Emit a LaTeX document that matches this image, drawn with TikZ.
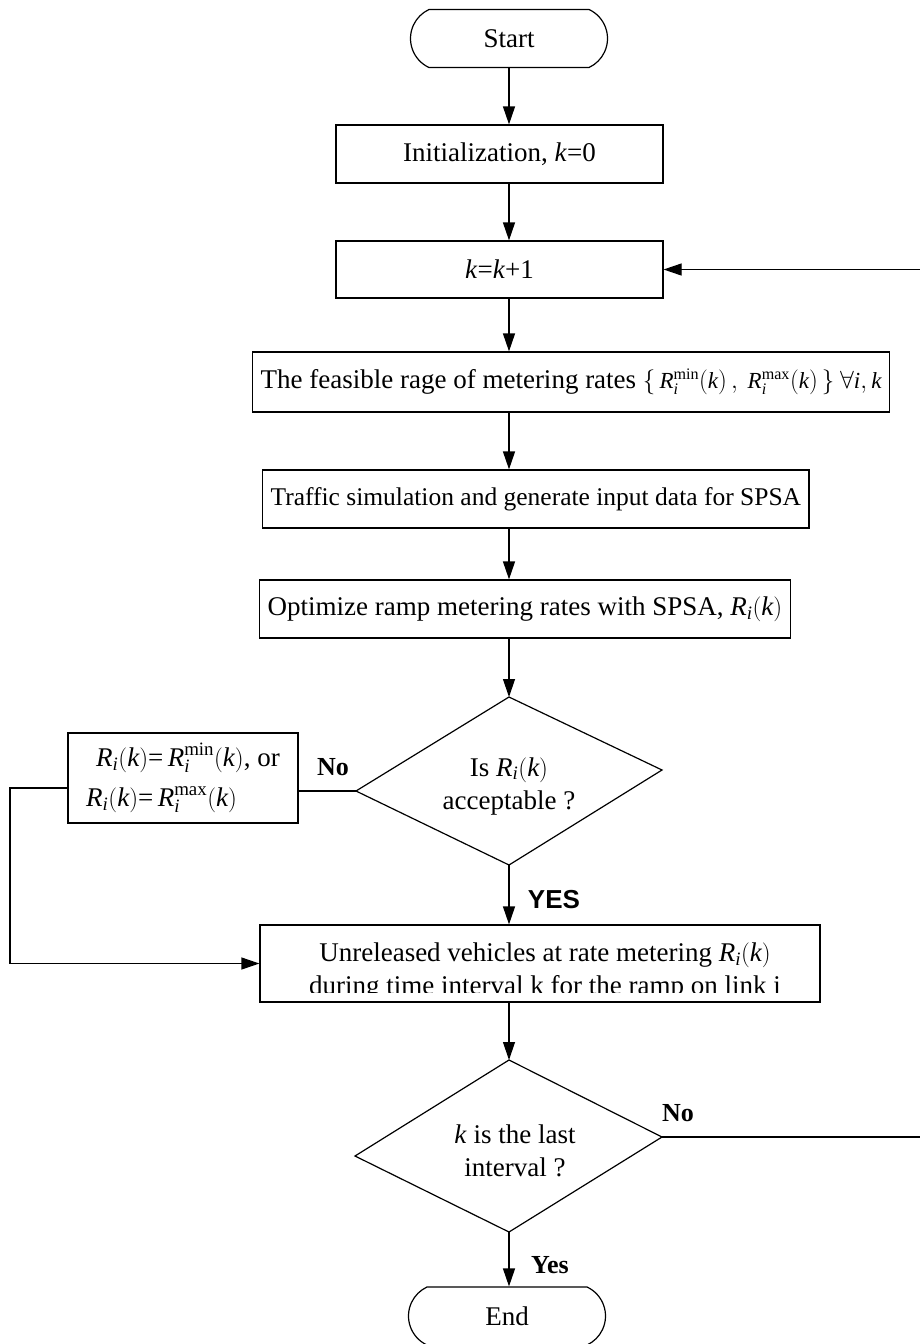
\documentclass[tikz,border=0pt]{standalone}
\usepackage{amsmath}
\usepackage{fontspec}
\setmainfont{Liberation Serif}
\newfontfamily\yesfont{Liberation Sans}
\usetikzlibrary{arrows.meta, shapes.misc}
\newcommand{\vR}{\textit{R}}
\newcommand{\vi}{\textit{i}}
\newcommand{\vk}{\textit{k}}
\tikzset{
    bigfont/.style={font=\fontsize{27}{33}\selectfont},
    tnode/.style={rounded rectangle, rounded rectangle arc length=130, draw, line width=1.2pt,
        minimum width=197pt, minimum height=58pt, inner sep=0pt, bigfont},
    pnode/.style={rectangle, draw, line width=1.2pt, minimum height=57pt, inner xsep=8pt, bigfont},
    dnode/.style={align=center, inner sep=0pt, bigfont},
    lbl/.style={inner sep=0pt, font=\fontsize{26}{30}\selectfont\bfseries},
    flow/.style={line width=1.2pt, -{Triangle[length=18pt,width=12pt]}},
    plain/.style={line width=1.2pt},
}

\begin{document}
\begin{tikzpicture}[x=1pt, y=-1pt]
    \useasboundingbox (0,0) rectangle (920,1344);
    \clip (0,0) rectangle (920,1344);
    % main column
    \node[tnode] (start) at (509,38.5) {Start};
    \node[pnode, minimum width=327pt, minimum height=58pt] (init) at (499.5,154) {Initialization, \vk=0};
    \node[pnode, minimum width=327pt] (kinc) at (499.5,269.5) {\vk=\vk+1};
    \node[pnode, anchor=west, minimum height=60pt] (range) at (252,382)
        {The feasible rage of metering rates {\fontsize{23}{28}\selectfont$\{\,\vR_{\vi}^{\mathrm{min}}(\vk)\,,\ \vR_{\vi}^{\mathrm{max}}(\vk)\,\}\ \forall \vi,\vk$}};
    \node[pnode, anchor=west, minimum height=58pt, font=\fontsize{25.5}{30}\selectfont] (sim) at (262,499) {Traffic simulation and generate input data for SPSA};
    \node[pnode, anchor=west, minimum height=58pt] (opt) at (259,609) {Optimize ramp metering rates with SPSA, $\vR_{\vi}(\vk)$};
    % first decision
    \node[dnode] (acc) at (509,786) {Is $\vR_{\vi}(\vk)$\\acceptable ?};
    \coordinate (acc-n) at (509,697);
    \coordinate (acc-e) at (662,770);
    \coordinate (acc-s) at (509,865);
    \coordinate (acc-w) at (356,791);
    \draw[plain] (acc-n) -- (acc-e) -- (acc-s) -- (acc-w) -- cycle;
    \node[pnode, minimum width=230pt, minimum height=90pt, align=left, inner xsep=6pt,
        font=\fontsize{27}{40}\selectfont] (fix) at (183,778)
        {\hspace*{10pt}$\vR_{\vi}(\vk)$=\,$\vR_{\vi}^{\mathrm{min}}(\vk)$, or\\$\vR_{\vi}(\vk)$=\,$\vR_{\vi}^{\mathrm{max}}(\vk)$};
    \node[lbl] (no1) at (333,767) {No};
    \node[lbl, font=\fontsize{26}{30}\selectfont\yesfont\bfseries] (yes1) at (554,900) {YES};
    % release box, second line cut by the frame
    \node[pnode, minimum width=560pt, minimum height=77pt] (rel) at (540,963.5) {};
    \begin{scope}
        \clip ([yshift=10pt]rel.south west) rectangle (rel.north east);
        \node[dnode] (reltext) at (545,972) {Unreleased vehicles at rate metering $\vR_{\vi}(\vk)$\\during time interval k for the ramp on link i};
    \end{scope}
    % second decision
    \node[dnode] (last) at (515,1151) {\vk{} is the last\\interval ?};
    \coordinate (last-n) at (509,1060);
    \coordinate (last-e) at (662,1137);
    \coordinate (last-s) at (509,1232);
    \coordinate (last-w) at (355,1156);
    \draw[plain] (last-n) -- (last-e) -- (last-s) -- (last-w) -- cycle;
    \node[lbl] (no2) at (678,1113) {No};
    \node[lbl] (yes2) at (550,1265) {Yes};
    \node[tnode] (end) at (507,1316) {End};
    % connectors
    \coordinate (loopL) at (10,0);
    \coordinate (loopR) at (940,0);
    \draw[flow] (start.south) -- (start.south |- init.north);
    \draw[flow] (init.south -| start) -- (kinc.north -| start);
    \draw[flow] (kinc.south -| start) -- (range.north -| start);
    \draw[flow] (range.south -| start) -- (sim.north -| start);
    \draw[flow] (sim.south -| start) -- (opt.north -| start);
    \draw[flow] (opt.south -| start) -- (acc-n);
    \draw[flow] (acc-s) -- (rel.north -| start);
    \draw[plain] (acc-w) -- (acc-w -| fix.east);
    \draw[flow] ([yshift=-10pt]fix.west) -- ([yshift=-10pt]fix.west -| loopL) |- (rel.west);
    \draw[flow] (rel.south -| start) -- (last-n);
    \draw[flow] (last-s) -- (last-s |- end.north);
    \draw[flow] (last-e) -- (last-e -| loopR) |- (kinc.east);
\end{tikzpicture}
\end{document}
